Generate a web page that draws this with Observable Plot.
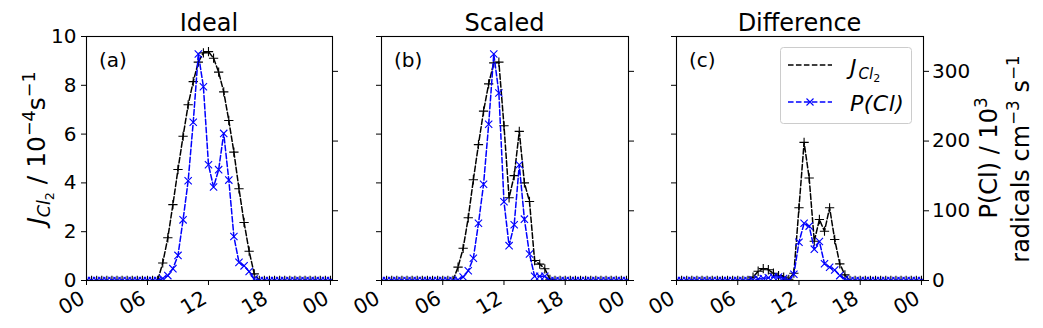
<!DOCTYPE html>
<html><head><meta charset="utf-8">
<script src="https://cdn.jsdelivr.net/npm/d3@7"></script>
<script src="https://cdn.jsdelivr.net/npm/@observablehq/plot@0.6"></script>
<style>
body{margin:0;background:#fff;}
#chart{position:relative;width:1043px;height:328px;font-family:"DejaVu Sans";}
#chart svg{position:absolute;left:0;top:0;}
</style></head><body><div id="chart"></div>
<script>
// time of day, hours (30-min steps)
const hours = [0,0.5,1,1.5,2,2.5,3,3.5,4,4.5,5,5.5,6,6.5,7,7.5,8,8.5,9,9.5,10,10.5,11,11.5,12,12.5,13,13.5,14,14.5,15,15.5,16,16.5,17,17.5,18,18.5,19,19.5,20,20.5,21,21.5,22,22.5,23,23.5,24];
const xTickValues = [0,6,12,18,24];
const xTickLabels = ["00","06","12","18","00"];
const yTicksLeft = [0,2,4,6,8,10];
const yTicksRight = [0,100,200,300];
const panelTitles = ["Ideal","Scaled","Difference"];
const panelTags = ["(a)","(b)","(c)"];
// J(Cl2) in 1e-4 s-1
const jIdeal  = [0,0,0,0,0,0,0,0,0,0,0,0,0,0, 0,0.72,1.75,3.11,4.55,5.91,7.2,8.15,8.95,9.33,9.38,9.11,8.54,7.73,6.56,5.26,3.76,2.38,1.2,0.27,0, 0,0,0,0,0,0,0,0,0,0,0,0,0,0];
const jScaled = [0,0,0,0,0,0,0,0,0,0,0,0,0,0, 0,0.55,1.32,2.57,4.13,5.57,6.94,8.06,8.92,8.95,6.34,3.39,4.3,6.11,4.0,3.24,0.82,0.67,0.48,0.05,0, 0,0,0,0,0,0,0,0,0,0,0,0,0,0];
const jDiff   = [0,0,0,0,0,0,0,0,0,0,0,0,0,0, 0,0.14,0.38,0.49,0.44,0.3,0.2,0.14,0.05,0.3,2.98,5.66,4.2,1.61,2.5,2.02,2.98,1.68,0.68,0.23,0, 0,0,0,0,0,0,0,0,0,0,0,0,0,0];
// P(Cl) in 1e3 radicals cm-3 s-1
const pIdeal  = [0,0,0,0,0,0,0,0,0,0,0,0,0,0, 0,3,7,17,36,87,143,227,325,278,166,134,159,211,144,63,26,21,13,2,0, 0,0,0,0,0,0,0,0,0,0,0,0,0,0];
const pScaled = [0,0,0,0,0,0,0,0,0,0,0,0,0,0, 0,1,5,14,32,82,138,224,325,269,113,50,80,166,88,38,6,6,6,0,0, 0,0,0,0,0,0,0,0,0,0,0,0,0,0];
const pDiff   = [0,0,0,0,0,0,0,0,0,0,0,0,0,0, 0,1,2,3,4,5,5,3,0,9,55,82,78,45,56,24,19,15,7,2,0, 0,0,0,0,0,0,0,0,0,0,0,0,0,0];

const W = 1043, H = 328;
const LEFT_MAX = 10, RIGHT_MAX = 350;
const K = LEFT_MAX / RIGHT_MAX;
const panels = [
  {title: panelTitles[0], tag: panelTags[0], j: jIdeal,  p: pIdeal,  x0: 86,  x1: 332, showLeft: true,  showRight: false},
  {title: panelTitles[1], tag: panelTags[1], j: jScaled, p: pScaled, x0: 381, x1: 628, showLeft: false, showRight: false},
  {title: panelTitles[2], tag: panelTags[2], j: jDiff,   p: pDiff,   x0: 676, x1: 923, showLeft: false, showRight: true}
];
const chart = document.getElementById("chart");
const dash = "5.55,2.4";
const svgs = panels.map((pn) => {
  const data = hours.map((h, i) => ({h, j: pn.j[i], p: pn.p[i]}));
  const svg = Plot.plot({
    width: W, height: H,
    marginLeft: pn.x0, marginRight: W - pn.x1, marginTop: 36, marginBottom: H - 280,
    style: {fontFamily: "DejaVu Sans", fontSize: "20px", background: "transparent", overflow: "visible", color: "black"},
    x: {domain: [0, 24.2]},
    y: {domain: [0, LEFT_MAX]},
    marks: [
      Plot.lineY(data, {x: "h", y: "j", stroke: "black", strokeWidth: 1.5, strokeDasharray: dash, clip: true}),
      Plot.dot(data, {x: "h", y: "j", symbol: "plus", stroke: "black", fill: "none", r: 3.1, strokeWidth: 1.1, clip: true}),
      Plot.lineY(data, {x: "h", y: d => d.p * K, stroke: "#0000ff", strokeWidth: 1.5, strokeDasharray: dash, clip: true}),
      Plot.dot(data, {x: "h", y: d => d.p * K, symbol: "times", stroke: "#0000ff", fill: "none", r: 3.4, strokeWidth: 1.1, clip: true}),
      Plot.frame({stroke: "black", strokeWidth: 1.1}),
      Plot.axisX(xTickValues, {anchor: "bottom", tickSize: 5, tickFormat: () => "", label: null}),
      Plot.text(xTickValues, {x: d => d, text: xTickLabels, frameAnchor: "bottom", rotate: -30, textAnchor: "end", lineAnchor: "middle", dx: -3.5, dy: 16, fontSize: 20.5}),
      Plot.axisY(yTicksLeft, {anchor: "left", tickSize: 5, tickPadding: 5, tickFormat: pn.showLeft ? (d => String(d)) : () => "", label: null}),
      Plot.axisY(yTicksRight.map(v => v * K), {anchor: "right", tickSize: 5, tickPadding: 3.5, tickFormat: pn.showRight ? (d => String(Math.round(d / K))) : () => "", label: null})
    ]
  });
  chart.appendChild(svg);
  const s = d3.select(svg);
  s.append("text").attr("x", (pn.x0 + pn.x1) / 2).attr("y", 31).attr("text-anchor", "middle")
    .attr("font-size", 24).text(pn.title);
  s.append("text").attr("x", pn.x0 + 13).attr("y", 67).attr("text-anchor", "start").attr("font-size", 20).text(pn.tag);
  return s;
});

// left y label
{
  const t = svgs[0].append("text").attr("transform", "translate(45,148) rotate(-90)")
    .attr("text-anchor", "middle").attr("font-size", 25);
  t.append("tspan").attr("font-style", "italic").text("J");
  t.append("tspan").attr("font-style", "italic").attr("font-size", 17.5).attr("dy", 5).text("Cl");
  t.append("tspan").attr("font-size", 12.5).attr("dy", 3.5).text("2");
  t.append("tspan").attr("dy", -8.5).text("\u00a0/ 10");
  t.append("tspan").attr("font-size", 17.5).attr("dy", -10).text("\u22124");
  t.append("tspan").attr("dy", 10).text("s");
  t.append("tspan").attr("font-size", 17.5).attr("dy", -10).text("\u22121");
}
// right y label
{
  const t1 = svgs[2].append("text").attr("transform", "translate(997,158) rotate(-90)")
    .attr("text-anchor", "middle").attr("font-size", 24);
  t1.append("tspan").text("P(Cl) / 10");
  t1.append("tspan").attr("font-size", 16.8).attr("dy", -10).text("3");
  const t2 = svgs[2].append("text").attr("transform", "translate(1029,159) rotate(-90)")
    .attr("text-anchor", "middle").attr("font-size", 24);
  t2.append("tspan").text("radicals cm");
  t2.append("tspan").attr("font-size", 16.8).attr("dy", -10).text("\u22123");
  t2.append("tspan").attr("dy", 10).text(" s");
  t2.append("tspan").attr("font-size", 16.8).attr("dy", -10).text("\u22121");
}
// legend
{
  const g = svgs[2].append("g");
  g.append("rect").attr("x", 780.5).attr("y", 47.5).attr("width", 131).attr("height", 76).attr("rx", 3)
    .attr("fill", "white").attr("fill-opacity", 0.8).attr("stroke", "#cccccc");
  g.append("line").attr("x1", 788).attr("x2", 832).attr("y1", 65).attr("y2", 65)
    .attr("stroke", "black").attr("stroke-width", 1.5).attr("stroke-dasharray", dash);
  g.append("line").attr("x1", 788).attr("x2", 832).attr("y1", 102).attr("y2", 102)
    .attr("stroke", "#0000ff").attr("stroke-width", 1.5).attr("stroke-dasharray", dash);
  g.append("path").attr("d", "M806.5,98.5L813.5,105.5M806.5,105.5L813.5,98.5").attr("stroke", "#0000ff").attr("stroke-width", 1.1);
  const l1 = g.append("text").attr("x", 850).attr("y", 75).attr("text-anchor", "start").attr("font-size", 22);
  l1.append("tspan").attr("font-style", "italic").text("J");
  l1.append("tspan").attr("font-style", "italic").attr("font-size", 15).attr("dy", 4).attr("dx", 2).text("Cl");
  l1.append("tspan").attr("font-size", 11).attr("dy", 3).text("2");
  g.append("text").attr("x", 850).attr("y", 111).attr("text-anchor", "start").attr("font-size", 22)
    .attr("font-style", "italic").attr("letter-spacing", 0.5).text("P(Cl)");
}
</script></body></html>
